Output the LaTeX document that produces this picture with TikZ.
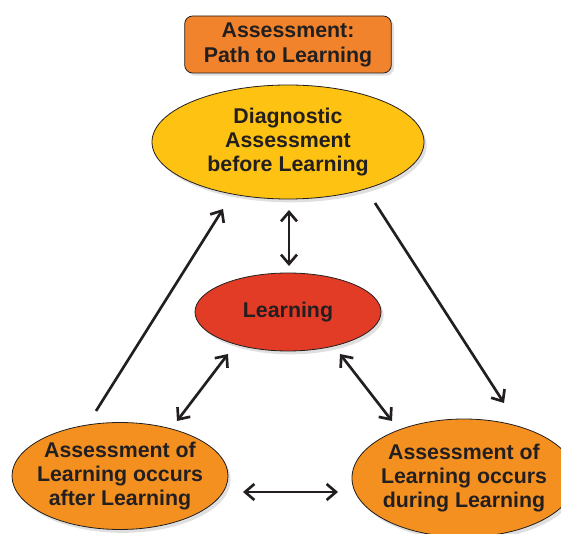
\documentclass[tikz,border=0pt]{standalone}
\usepackage{fontspec}
\setmainfont{Liberation Sans}
\usetikzlibrary{shapes.geometric,shadows,arrows.meta}
\definecolor{boxorange}{HTML}{F0832B}
\definecolor{diagyellow}{HTML}{FDC212}
\definecolor{learnred}{HTML}{E23B26}
\definecolor{evalorange}{HTML}{F39020}
\definecolor{inkdark}{HTML}{231F20}
\begin{document}
\begin{tikzpicture}[x = 0.75pt, y = -0.75pt,
                    enode/.style = {shape = ellipse,
                                    draw = inkdark,
                                    line width = 0.6pt,
                                    inner xsep = -14pt,
                                    inner ysep = -6pt,
                                    align = center,
                                    text = inkdark,
                                    font = \fontsize{16}{17.8}\selectfont\bfseries,
                                    drop shadow = {shadow xshift = 2pt, shadow yshift = -2.5pt, fill = black!25}},
                    tbox/.style = {shape = rectangle,
                                   rounded corners = 6pt,
                                   draw = inkdark,
                                   line width = 0.6pt,
                                   fill = boxorange,
                                   align = center,
                                   text = inkdark,
                                   minimum width = 155pt,
                                   minimum height = 42.75pt,
                                   font = \fontsize{16}{18.8}\selectfont\bfseries,
                                   drop shadow = {shadow xshift = 2pt, shadow yshift = -2pt, fill = black!25}},
                    arr/.style = {color = inkdark,
                                  line width = 2pt,
                                  -{Straight Barb[length = 7pt, width = 12pt]}},
                    arr2/.style = {arr, {Straight Barb[length = 7pt, width = 12pt]}-{Straight Barb[length = 7pt, width = 12pt]}}]
		\useasboundingbox (0,0) rectangle (561,534);
		\node[tbox] (0) at (288,44.5) {Assessment:\\Path to Learning};
		\node[enode, fill = diagyellow, minimum width = 204pt, minimum height = 85.5pt] (1) at (288,142) {Diagnostic\\Assessment\\before Learning};
		\node[enode, fill = learnred, minimum width = 139.5pt, minimum height = 58.5pt] (2) at (288,312) {Learning};
		\node[enode, fill = evalorange, minimum width = 162pt, minimum height = 80.25pt] (3) at (120,476) {Assessment of\\Learning occurs\\after Learning};
		\node[enode, fill = evalorange, minimum width = 168pt, minimum height = 88.5pt] (4) at (464,478) {Assessment of\\Learning occurs\\during Learning};
		% arrow ends
		\coordinate (1s) at (289,210);
		\coordinate (2n) at (289,266);
		\coordinate (3u) at (96,411);
		\coordinate (1w) at (223,209);
		\coordinate (1e) at (375,203);
		\coordinate (4u) at (504,403);
		\coordinate (2w) at (228,354);
		\coordinate (3e) at (177,421);
		\coordinate (2e) at (340,354);
		\coordinate (4w) at (392,421);
		\coordinate (3r) at (243,492);
		\coordinate (4l) at (338,492);
		\path (1s) edge[arr2] (2n);
		\path (3u) edge[arr] (1w);
		\path (1e) edge[arr] (4u);
		\path (2w) edge[arr2] (3e);
		\path (2e) edge[arr2] (4w);
		\path (3r) edge[arr2] (4l);
	\end{tikzpicture}
\end{document}
